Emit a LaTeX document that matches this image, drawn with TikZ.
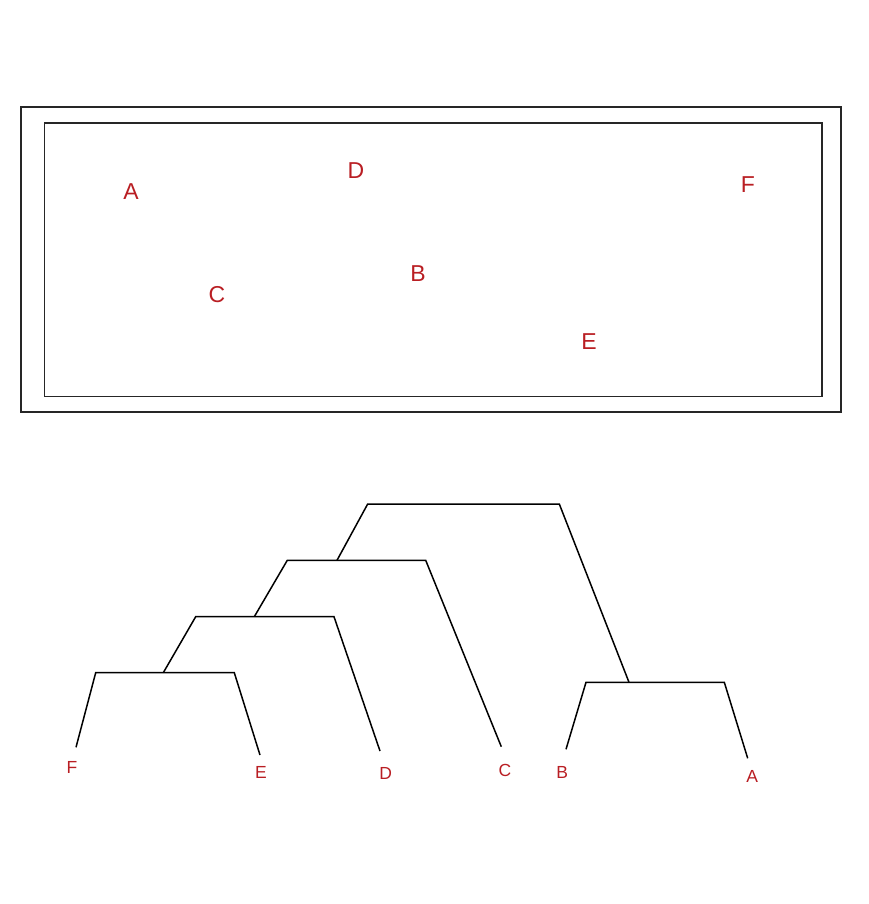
\documentclass[tikz,border=0pt]{standalone}
\usepackage{fontspec}
\setmainfont{Liberation Sans}
\definecolor{lblred}{RGB}{185,30,35}
\begin{document}
\begin{tikzpicture}[x=1pt,y=-1pt,
  frame/.style={draw=black!85,line width=1.6pt},
  branch/.style={draw=black,line width=1.5pt,line join=miter},
  boxlbl/.style={text=lblred,font=\fontsize{23}{23}\selectfont,inner sep=0pt},
  leaflbl/.style={text=lblred,font=\fontsize{17.5}{17.5}\selectfont,inner sep=0pt}]
\useasboundingbox (0,0) rectangle (869,904);
% frames
\draw[frame] (20.7,107.3) rectangle (840.7,411.7);
\draw[frame] (44.3,123) rectangle (822,396.3);
% scatter labels
\node[boxlbl] (pA) at (131,192) {A};
\node[boxlbl] (pD) at (356,171) {D};
\node[boxlbl] (pF) at (748,185) {F};
\node[boxlbl] (pB) at (418,274) {B};
\node[boxlbl] (pC) at (217,295) {C};
\node[boxlbl] (pE) at (589,342) {E};
% dendrogram coordinates
\coordinate (t1) at (367.7,504);
\coordinate (t2) at (559.3,504);
\coordinate (j1) at (337,560.3);
\coordinate (s1) at (287.3,560.3);
\coordinate (s2) at (425.7,560.3);
\coordinate (j2) at (254.3,616.7);
\coordinate (u1) at (195.7,616.7);
\coordinate (u2) at (334,616.7);
\coordinate (j3) at (163.3,672.7);
\coordinate (v1) at (95.7,672.7);
\coordinate (v2) at (234.3,672.7);
\coordinate (j4) at (629,682.3);
\coordinate (w1) at (586,682.3);
\coordinate (w2) at (724.3,682.3);
\coordinate (eF) at (76,747.3);
\coordinate (eE) at (260,755);
\coordinate (eD) at (380,751);
\coordinate (eC) at (501.3,746.7);
\coordinate (eB) at (566,749.3);
\coordinate (eA) at (747.7,758.3);
% leaf labels
\node[leaflbl] (lF) at (72,767.3) {F};
\node[leaflbl] (lE) at (261,772.3) {E};
\node[leaflbl] (lD) at (385.7,773.3) {D};
\node[leaflbl] (lC) at (505,770) {C};
\node[leaflbl] (lB) at (562.3,772.7) {B};
\node[leaflbl] (lA) at (752.3,776.7) {A};
% branches
\draw[branch] (j1) -- (t1) -- (t2) -- (j4);
\draw[branch] (j2) -- (s1) -- (s2) -- (eC);
\draw[branch] (j3) -- (u1) -- (u2) -- (eD);
\draw[branch] (eF) -- (v1) -- (v2) -- (eE);
\draw[branch] (eB) -- (w1) -- (w2) -- (eA);
\end{tikzpicture}
\end{document}
